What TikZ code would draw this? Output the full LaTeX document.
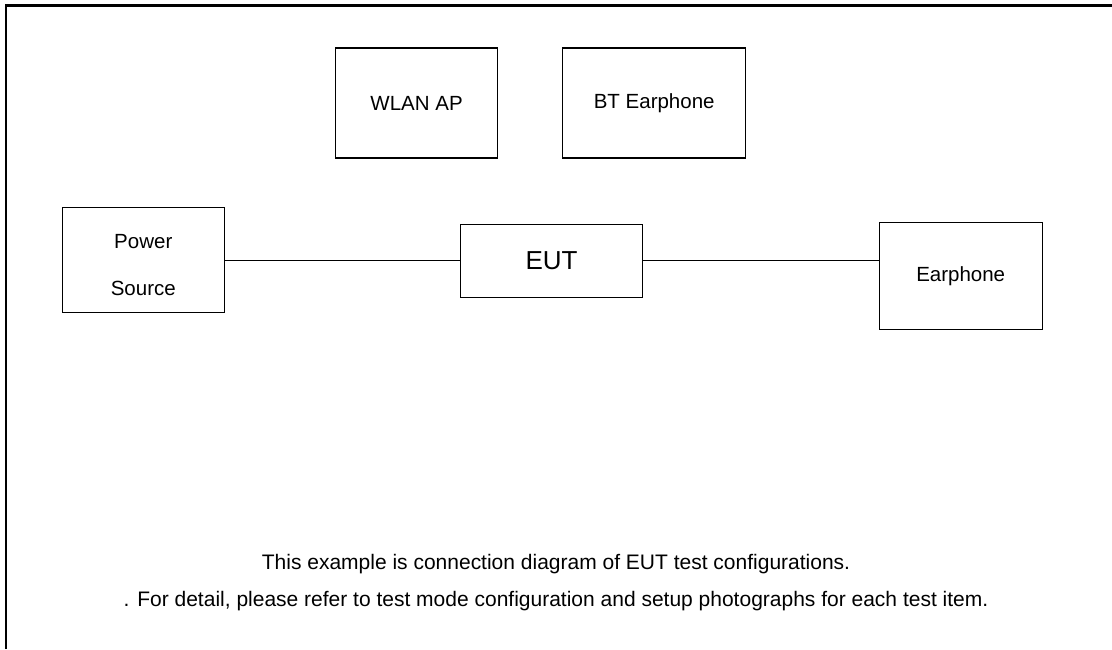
\documentclass[tikz,border=0pt]{standalone}
\usepackage{fontspec}
\setmainfont{Liberation Sans}
\usetikzlibrary{positioning}
\begin{document}
\begin{tikzpicture}
[x=1pt,y=-1pt,
 unit/.style={rectangle,draw,line width=1.1pt,inner sep=0pt,align=center,font=\fontsize{20.5}{24}\selectfont},
 note/.style={anchor=base,inner sep=0pt,font=\fontsize{21}{25}\selectfont}]
\useasboundingbox (0,0) rectangle (1112,649);
\draw[line width=2.5pt] (6.2,649) -- (6.2,5.3) -- (1112,5.3);
\node[unit,minimum width=162,minimum height=110] (ap) at (416.6,103) {WLAN AP};
\node[unit,minimum width=183,minimum height=110] (bt) at (654.2,103) {BT Earphone};
\node[unit,minimum width=162,minimum height=105.4] (power) at (143.3,260)
  {\raisebox{-7pt}[\height][\depth]{\begin{tabular}{@{}c@{}}Power\\[23pt]Source\end{tabular}}};
\node[unit,minimum width=181.6,minimum height=73,font=\fontsize{26}{30}\selectfont] (eut) at (551.5,260.8) {EUT};
\node[unit,minimum width=162.7,minimum height=106.3] (ear) at (960.7,275.9) {Earphone};
\draw[line width=1.1pt] (power.east |- eut.west) -- (eut.west);
\draw[line width=1.1pt] (eut.east) -- (eut.east -| ear.west);
\node[note] (note1) at (556,569) {This example is connection diagram of EUT test configurations.};
\node[note] (note2) at (556,606) {. For detail, please refer to test mode configuration and setup photographs for each test item.};
\end{tikzpicture}
\end{document}
